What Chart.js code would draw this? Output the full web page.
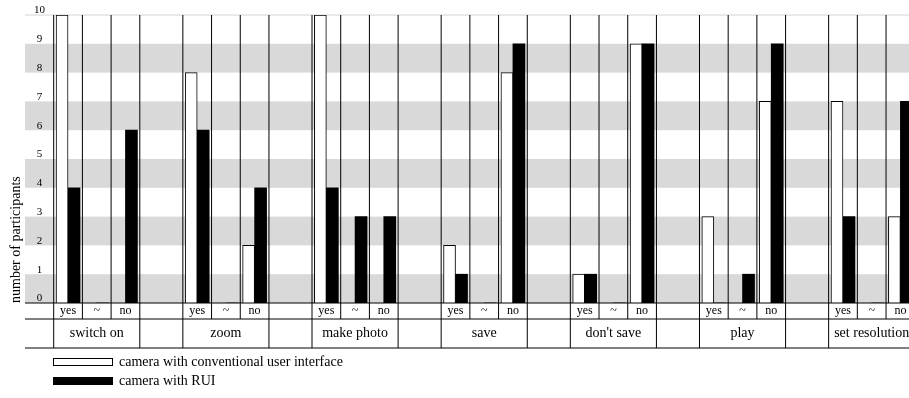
<!DOCTYPE html>
<html>
<head>
<meta charset="utf-8">
<script src="https://cdn.jsdelivr.net/npm/chart.js@4"></script>
<style>
  html, body { margin: 0; padding: 0; background: #fff; }
  #wrap { position: relative; width: 909px; height: 398px; }
  #legend { position: absolute; left: 53px; top: 353px; font: 14px 'Liberation Serif', 'Times New Roman', serif; color: #000; }
  .item { display: flex; align-items: center; height: 18px; margin-bottom: 0.5px; white-space: nowrap; }
  .box { width: 60px; height: 8px; box-sizing: border-box; border: 1px solid #000; margin-right: 6px; }
</style>
</head>
<body>
<div id="wrap">
  <canvas id="graficoParticipantes"></canvas>
  <div id="legend"></div>
</div>
<script>
// dados
const tarefas = ["switch on", "zoom", "make photo", "save", "don't save", "play", "set resolution"];
const respostas = ["yes", "~", "no"];
// por tarefa: yes, ~, no
const convencional = [10, 0, 0,  8, 0, 2,  10, 0, 0,  2, 0, 8,  1, 0, 9,  3, 0, 7,  7, 0, 3];
const rui = [4, 0, 6,  6, 0, 4,  4, 3, 3,  1, 0, 9,  1, 0, 9,  0, 1, 9,  3, 0, 7];

// layout das colunas (em larguras de coluna): 1 coluna vazia, depois grupos de 3 + 1.5 de espaço
const PASSO_GRUPO = 4.5;
const X_MAX = 30.8;
const inicioGrupo = t => 1 + PASSO_GRUPO * t;
const centroColuna = i => inicioGrupo(Math.floor(i / 3)) + (i % 3) + 0.5;
const centrosColunas = convencional.map((_, i) => centroColuna(i));
const centrosGrupos = tarefas.map((_, t) => inicioGrupo(t) + 1.5);

Chart.defaults.font.family = "'Liberation Serif', 'Times New Roman', serif";
Chart.defaults.color = "#000";

const tabelaPlugin = {
    id: "tabela",
    // faixas cinzas antes dos eixos, para os números ficarem por cima
    beforeDraw(chart) {
        const { ctx, chartArea: area, scales: { y } } = chart;
        ctx.save();
        ctx.fillStyle = "#d9d9d9";
        for (let v = 0; v < 10; v += 2) {
            const topo = y.getPixelForValue(v + 1);
            const base = y.getPixelForValue(v);
            ctx.fillRect(area.left, topo, area.right - area.left, base - topo);
        }
        ctx.strokeStyle = "#d4d4d4";
        ctx.lineWidth = 1;
        ctx.beginPath();
        const yTopo = y.getPixelForValue(10);
        ctx.moveTo(area.left, yTopo);
        ctx.lineTo(area.right, yTopo);
        ctx.stroke();
        ctx.restore();
    },
    afterDatasetsDraw(chart) {
        const { ctx, chartArea: area, scales: { x, x2 } } = chart;
        ctx.save();
        ctx.strokeStyle = "#000";
        ctx.lineWidth = 1;
        ctx.beginPath();
        tarefas.forEach((_, t) => {
            for (let k = 0; k <= 3; k++) {
                const px = x.getPixelForValue(inicioGrupo(t) + k);
                const fim = (k === 0 || k === 3) ? x2.bottom : x.bottom;
                ctx.moveTo(px, area.top);
                ctx.lineTo(px, fim);
            }
        });
        [area.bottom, x.bottom, x2.bottom].forEach(py => {
            ctx.moveTo(area.left, py);
            ctx.lineTo(area.right, py);
        });
        ctx.stroke();
        ctx.restore();
    }
};

const ctx = document.getElementById("graficoParticipantes").getContext("2d");
const grafico = new Chart(ctx, {
    type: "bar",
    data: {
        datasets: [{
            label: "camera with conventional user interface",
            data: convencional.map((v, i) => ({ x: centrosColunas[i], y: v })),
            backgroundColor: "#fff",
            borderColor: "#000",
            borderWidth: 1,
            barThickness: 12
        }, {
            label: "camera with RUI",
            data: rui.map((v, i) => ({ x: centrosColunas[i], y: v })),
            backgroundColor: "#000",
            borderColor: "#000",
            borderWidth: 0,
            barThickness: 12
        }]
    },
    options: {
        responsive: true,
        maintainAspectRatio: false,
        animation: false,
        layout: { padding: { top: 15, left: 0, right: 0, bottom: 50 } },
        plugins: {
            legend: { display: false },
            tooltip: { enabled: false }
        },
        scales: {
            x: {
                type: "linear",
                position: "bottom",
                offset: false,
                weight: 0,
                min: 0,
                max: X_MAX,
                grid: { display: false, drawTicks: false, offset: false },
                border: { display: false },
                afterBuildTicks: s => { s.ticks = centrosColunas.map(v => ({ value: v })); },
                ticks: {
                    autoSkip: false,
                    maxRotation: 0,
                    padding: 1,
                    font: { size: 12 },
                    callback: (v, i) => respostas[i % 3]
                },
                afterFit: s => { s.height = 16; s.paddingLeft = 0; s.paddingRight = 0; }
            },
            x2: {
                type: "linear",
                position: "bottom",
                offset: false,
                weight: 1,
                min: 0,
                max: X_MAX,
                grid: { display: false, drawTicks: false, offset: false },
                border: { display: false },
                afterBuildTicks: s => { s.ticks = centrosGrupos.map(v => ({ value: v })); },
                ticks: {
                    autoSkip: false,
                    maxRotation: 0,
                    padding: 6,
                    font: { size: 14 },
                    callback: (v, i) => tarefas[i]
                },
                afterFit: s => { s.height = 29; s.paddingLeft = 0; s.paddingRight = 0; }
            },
            y: {
                min: 0,
                max: 10,
                grid: { display: false, drawTicks: false },
                border: { display: false },
                ticks: {
                    stepSize: 1,
                    autoSkip: false,
                    mirror: true,
                    crossAlign: "center",
                    padding: 9,
                    labelOffset: -4.5,
                    font: { size: 11 }
                },
                title: {
                    display: true,
                    text: "number of participants",
                    align: "start",
                    font: { size: 14 },
                    padding: { top: 8, bottom: 0 }
                },
                afterFit: s => { s.width = 25; s.paddingTop = 0; s.paddingBottom = 0; }
            }
        }
    },
    plugins: [tabelaPlugin]
});

// legenda em HTML, empilhada como no original
const legenda = document.getElementById("legend");
grafico.data.datasets.forEach(ds => {
    const item = document.createElement("div");
    item.className = "item";
    const caixa = document.createElement("span");
    caixa.className = "box";
    caixa.style.background = ds.backgroundColor;
    item.appendChild(caixa);
    item.appendChild(document.createTextNode(ds.label));
    legenda.appendChild(item);
});
</script>
</body>
</html>
